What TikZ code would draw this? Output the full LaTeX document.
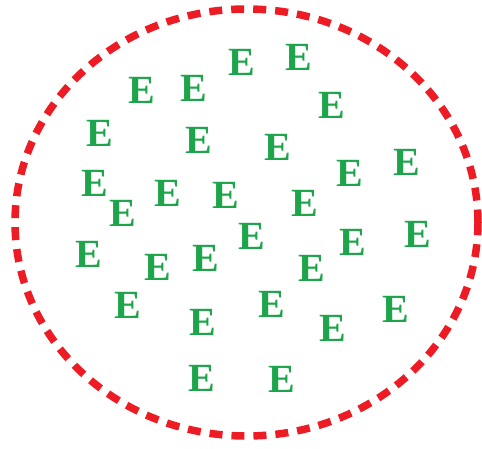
\documentclass[tikz,border=0pt]{standalone}
\usepackage{fontspec}
\setmainfont{Liberation Serif}
\usetikzlibrary{shapes.geometric}
\definecolor{eGreen}{RGB}{30,165,75}
\definecolor{cRed}{RGB}{237,28,36}
\begin{document}
\begin{tikzpicture}[x=1pt,y=-1pt,
  eletter/.style={text=eGreen,font=\fontsize{40}{40}\selectfont\bfseries,inner sep=0pt,anchor=center},
  boundary/.style={draw=cRed,line width=7.5pt,dash pattern=on 13pt off 9pt}]
\useasboundingbox (0,0) rectangle (482,448);
\node[boundary,ellipse,minimum width=463pt,minimum height=427pt,inner sep=0pt] (ring) at (246.5,222.5) {};
\foreach \x/\y [count=\i] in {
142/90,194/88,242/62,299/57,332/105,
100/133,199/140,278/147,350/173,407/162,
95/183,168/193,226/195,305/203,123/213,
252/236,353/242,418/234,89/254,158/267,
206/258,312/268,128/305,272/304,203/322,
333/328,396/309,202/378,282/379}
  \node[eletter] (e\i) at (\x,\y) {E};
\end{tikzpicture}
\end{document}
